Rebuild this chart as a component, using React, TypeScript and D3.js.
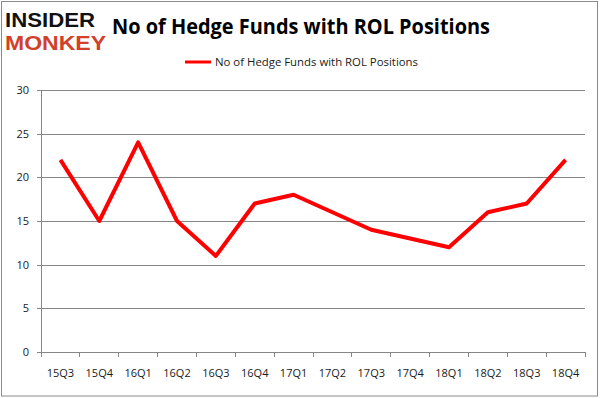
import * as d3 from "d3";
import { useEffect, useRef } from "react";

const quarters = ["15Q3", "15Q4", "16Q1", "16Q2", "16Q3", "16Q4", "17Q1", "17Q2", "17Q3", "17Q4", "18Q1", "18Q2", "18Q3", "18Q4"];
const fundCounts = [22, 15, 24, 15, 11, 17, 18, 16, 14, 13, 12, 16, 17, 22];
const yTicks = [0, 5, 10, 15, 20, 25, 30];
const seriesName = "No of Hedge Funds with ROL Positions";
const chartTitle = "No of Hedge Funds with ROL Positions";

const App = () => {
    const svgRef = useRef<SVGSVGElement>(null);
    const svgWidth = 602;
    const svgHeight = 398;
    const plotLeft = 41;
    const plotRight = 585;
    const plotTop = 90;
    const plotBottom = 352;
    const font = "'Open Sans', 'DejaVu Sans', sans-serif";

    useEffect(() => {
        if (svgRef.current) {
            drawChart();
        }
    }, [svgRef]);

    const drawChart = () => {
        const svg = d3.select(svgRef.current);
        svg.selectAll("*").remove();

        svg.append("rect")
            .attr("x", 0).attr("y", 0)
            .attr("width", svgWidth).attr("height", svgHeight)
            .attr("fill", "#ffffff");
        // outer frame
        svg.append("rect")
            .attr("x", 1.5).attr("y", 1.5)
            .attr("width", 596).attr("height", 394.5)
            .attr("fill", "none")
            .attr("stroke", "#8a8a8a")
            .attr("stroke-width", 1);

        const scaleX = d3.scaleBand().domain(quarters).range([plotLeft, plotRight]).padding(0);
        const scaleY = d3.scaleLinear().domain([0, 30]).range([plotBottom, plotTop]);

        // horizontal grid lines
        svg.append("g")
            .attr("transform", "translate(" + plotLeft + ",0)")
            .attr("color", "#868686")
            .call(d3.axisLeft(scaleY).tickValues(yTicks).tickSize(-(plotRight - plotLeft)).tickFormat(() => ""))
            .call((g) => g.select(".domain").remove())
            .call((g) => g.selectAll("line").attr("shape-rendering", "crispEdges"));

        // y axis
        const yAxis = svg.append("g")
            .attr("transform", "translate(" + plotLeft + ",0)")
            .attr("color", "#868686")
            .call(d3.axisLeft(scaleY).tickValues(yTicks).tickSize(4).tickSizeOuter(0).tickPadding(8));
        yAxis.selectAll("line, path").attr("shape-rendering", "crispEdges");
        yAxis.selectAll("text")
            .attr("fill", "#1a1a1a")
            .style("font-family", font)
            .style("font-size", "11px");

        // x axis
        const xAxis = svg.append("g")
            .attr("transform", "translate(0," + plotBottom + ")")
            .attr("color", "#868686")
            .call(d3.axisBottom(scaleX).tickSize(0).tickSizeOuter(0).tickPadding(17));
        xAxis.selectAll("line, path").attr("shape-rendering", "crispEdges");
        xAxis.selectAll("text")
            .attr("fill", "#1a1a1a")
            .style("font-family", font)
            .style("font-size", "11px");

        // tick marks between categories
        const boundaries = quarters.map((q) => scaleX(q) as number).concat([plotRight]);
        svg.append("g")
            .selectAll("line")
            .data(boundaries)
            .join("line")
            .attr("x1", (d) => d).attr("x2", (d) => d)
            .attr("y1", plotBottom).attr("y2", plotBottom + 5)
            .attr("stroke", "#868686")
            .attr("shape-rendering", "crispEdges");

        // series line
        const line = d3.line<number>()
            .x((d, i) => (scaleX(quarters[i]) as number) + scaleX.bandwidth() / 2)
            .y((d) => scaleY(d));
        svg.append("path")
            .datum(fundCounts)
            .attr("d", line)
            .attr("fill", "none")
            .attr("stroke", "#ff0000")
            .attr("stroke-width", 4)
            .attr("stroke-linejoin", "round");

        // title
        svg.append("text")
            .attr("x", 112).attr("y", 34)
            .attr("textLength", 378)
            .attr("lengthAdjust", "spacingAndGlyphs")
            .style("font-family", font)
            .style("font-size", "21px")
            .style("font-weight", "bold")
            .attr("fill", "#000")
            .text(chartTitle);

        // legend
        svg.append("line")
            .attr("x1", 185).attr("x2", 211)
            .attr("y1", 62).attr("y2", 62)
            .attr("stroke", "#ff0000")
            .attr("stroke-width", 3);
        svg.append("text")
            .attr("x", 215).attr("y", 66)
            .attr("textLength", 203)
            .attr("lengthAdjust", "spacingAndGlyphs")
            .style("font-family", font)
            .style("font-size", "11px")
            .attr("fill", "#1a1a1a")
            .text(seriesName);

        // logo
        svg.append("text")
            .attr("x", 5).attr("y", 27)
            .attr("textLength", 90)
            .attr("lengthAdjust", "spacingAndGlyphs")
            .style("font-family", "'Liberation Sans', sans-serif")
            .style("font-size", "20px")
            .style("font-weight", "900")
            .attr("fill", "#111111")
            .text("INSIDER");
        svg.append("text")
            .attr("x", 5).attr("y", 50)
            .attr("textLength", 101)
            .attr("lengthAdjust", "spacingAndGlyphs")
            .style("font-family", "'Liberation Sans', sans-serif")
            .style("font-size", "20px")
            .style("font-weight", "900")
            .attr("fill", "#d0402a")
            .text("MONKEY");
    };

    return (
        <svg
            ref={svgRef}
            width={svgWidth}
            height={svgHeight}
            style={{ position: "absolute", left: 0, top: 0, display: "block" }}
        />
    );
};

export default App;
